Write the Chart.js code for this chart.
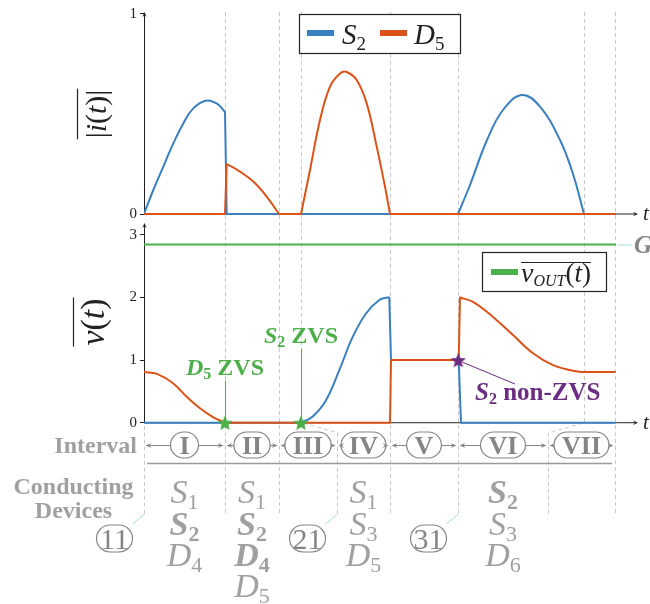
<!DOCTYPE html>
<html>
<head>
<meta charset="utf-8">
<script src="https://cdn.jsdelivr.net/npm/chart.js@4.4.1/dist/chart.umd.min.js"></script>
<style>
  html, body { margin: 0; padding: 0; background: #fff; overflow: hidden; }
  #wrap { position: relative; width: 650px; height: 604px; }
</style>
</head>
<body>
<div id="wrap"><canvas id="c" width="650" height="604"></canvas></div>
<script>
// ---- switching instants (time axis, arbitrary units) ----
const boundaries = [0, 8.1, 13.5, 15.7, 24.6, 31.4, 44.0, 47.1];
// interval edges used for the interval / device rows
const rowEdges   = [0, 8.1, 13.5, 19.3, 24.6, 31.4, 40.4, 47.1];

// ---- normalised current magnitudes |i(t)| : [t, value]; a null value marks a corner ----
const curS2 = [[0,0],[0.93,0.12],[1.93,0.237],[2.93,0.353],[3.93,0.453],[4.93,0.528],[6.27,0.567],[7.27,0.553],[7.93,0.52],[8.1,0.51],
               [8.1,null],[8.1,0.51],[8.27,0],[8.27,null],[8.27,0],[31.4,0],
               [31.4,null],[31.4,0],[32.6,0.145],[34.3,0.37],[35.9,0.52],[37.8,0.595],[39.6,0.537],[41.6,0.37],[42.9,0.20],[44.0,0],
               [44.0,null],[44.0,0],[47.1,0]];
const curD5 = [[0,0],[8.1,0],[8.1,null],[8.1,0],[8.27,0.25],[8.27,null],[8.27,0.25],[9.6,0.212],[10.93,0.162],[12.27,0.087],[13.5,0],
               [13.5,null],[13.5,0],[15.7,0],
               [15.7,null],[15.7,0],[16.6,0.22],[17.6,0.47],[18.6,0.637],[19.6,0.703],[20.27,0.71],[21.27,0.67],[22.27,0.553],[23.27,0.337],[24.1,0.137],[24.6,0],
               [24.6,null],[24.6,0],[47.1,0]];

// ---- normalised voltages v(t) : [t, value] ----
const volS2 = [[0,0],[15.7,0],[15.7,null],[15.7,0],[16.87,0.1],[18.2,0.36],[19.53,0.84],[20.87,1.37],[22.2,1.745],[23.53,1.96],[24.37,2.0],[24.53,2.0],
               [24.53,null],[24.53,2.0],[24.7,1.0],[24.7,null],[24.7,1.0],[31.47,1.0],[31.47,null],[31.47,1.0],[31.7,0],[31.7,null],[31.7,0],[47.1,0]];
const volD5 = [[0,0.81],[1.3,0.78],[2.9,0.63],[4.3,0.41],[5.6,0.23],[6.9,0.09],[8.1,0],[8.1,null],[8.1,0],[24.6,0],
               [24.6,null],[24.6,0],[24.7,1.0],[24.7,null],[24.7,1.0],[31.47,1.0],[31.47,null],[31.47,1.0],[31.6,2.0],[31.6,null],[31.6,2.0],
               [32.9,1.93],[34.9,1.69],[36.9,1.40],[38.9,1.11],[40.9,0.92],[42.9,0.83],[43.9,0.81],[43.9,null],[43.9,0.81],[47.1,0.81]];
const volOut = [[0,2.845],[47.1,2.845]];

// ---- switching events ----
const zvsEvents = [[8.1,0],[15.7,0],[31.43,1]];

// ---- tick values ----
const iTicks = [0, 1];
const vTicks = [0, 1, 2, 3];

// ---- row labels ----
const intervalNames = ['I','II','III','IV','V','VI','VII'];
const conducting = [['S1','*S2','D4'], ['S1','*S2','*D4','D5'], [], ['S1','S3','D5'], [], ['*S2','S3','D6'], []];
const refTags = [['11', 0], ['21', 19.3], ['31', 31.4]];

const COL = { blue:'#3a7fc0', orange:'#db5219', green:'#4caf4a', purple:'#6b2c82',
              dash:'#c8c8c8', axis:'#222', gray:'#858585', light:'#a0a0a0', teal:'#a9dadd' };
const SERIF = '"Liberation Serif", "DejaVu Serif", serif';

function starImage(color, r) {
  const s = Math.ceil(r * 2 + 2);
  const c = document.createElement('canvas');
  c.width = c.height = s;
  const g = c.getContext('2d');
  g.translate(s / 2, s / 2 + 0.8);
  g.beginPath();
  for (let k = 0; k < 10; k++) {
    const rad = k % 2 ? r * 0.45 : r;
    const a = -Math.PI / 2 + k * Math.PI / 5;
    g.lineTo(rad * Math.cos(a), rad * Math.sin(a));
  }
  g.closePath();
  g.fillStyle = color;
  g.fill();
  return c;
}

// draw a run of text pieces [text, font, dy]; returns [left, width]
function rich(ctx, parts, x, y, align) {
  let w = 0;
  const ws = parts.map(p => { ctx.font = p[1]; const m = ctx.measureText(p[0]).width; w += m; return m; });
  let cx = align === 'center' ? x - w / 2 : align === 'right' ? x - w : x;
  const left = cx;
  ctx.textAlign = 'left';
  ctx.textBaseline = 'alphabetic';
  parts.forEach((p, i) => { ctx.font = p[1]; ctx.fillText(p[0], cx, y + (p[2] || 0)); cx += ws[i]; });
  return [left, w];
}

function arrowHead(ctx, x, y, dx, dy, len, half) {
  const nx = -dy, ny = dx;
  ctx.beginPath();
  ctx.moveTo(x, y);
  ctx.lineTo(x - dx * len + nx * half, y - dy * len + ny * half);
  ctx.lineTo(x - dx * len * 0.6, y - dy * len * 0.6);
  ctx.lineTo(x - dx * len - nx * half, y - dy * len - ny * half);
  ctx.closePath();
  ctx.fill();
}

function capsule(ctx, cx, cy, w, h) {
  const r = h / 2, x0 = cx - w / 2, x1 = cx + w / 2;
  ctx.beginPath();
  ctx.moveTo(x0 + r, cy - r);
  ctx.lineTo(x1 - r, cy - r);
  ctx.arc(x1 - r, cy, r, -Math.PI / 2, Math.PI / 2);
  ctx.lineTo(x0 + r, cy + r);
  ctx.arc(x0 + r, cy, r, Math.PI / 2, Math.PI * 1.5);
  ctx.closePath();
}

const decorations = {
  id: 'decorations',
  beforeDatasetsDraw(chart) {
    const { ctx } = chart;
    const X = t => chart.scales.x.getPixelForValue(t);
    const yI0 = chart.scales.yI.getPixelForValue(0);
    const yV0 = chart.scales.yV.getPixelForValue(0);
    ctx.save();
    // dashed instants
    ctx.strokeStyle = COL.dash; ctx.lineWidth = 1; ctx.setLineDash([4, 3]);
    boundaries.forEach((b, k) => {
      const px = Math.round(X(b)) + 0.5;
      const lx = Math.round(X(rowEdges[k])) + 0.5;
      ctx.beginPath();
      if (k > 0) { ctx.moveTo(px, 12); ctx.lineTo(px, yV0); }
      else ctx.moveTo(px, yV0 + 3);
      ctx.lineTo(lx, yV0 + 10);
      ctx.lineTo(lx, 514);
      ctx.stroke();
    });
    ctx.setLineDash([]);
    // axes with arrow tips
    ctx.strokeStyle = COL.axis; ctx.fillStyle = COL.axis; ctx.lineWidth = 1;
    const x0 = Math.round(X(0)) + 0.5, xEnd = chart.chartArea.right;
    [[yI0, 12], [yV0, chart.scales.yV.top + 1]].forEach(([y0, yTop]) => {
      ctx.beginPath(); ctx.moveTo(x0, y0); ctx.lineTo(x0, yTop + 2); ctx.stroke();
      arrowHead(ctx, x0, yTop, 0, -1, 5, 2.2);
      ctx.beginPath(); ctx.moveTo(x0, y0); ctx.lineTo(xEnd - 2, y0); ctx.stroke();
      arrowHead(ctx, xEnd, y0, 1, 0, 5, 2.2);
    });
    ctx.restore();
  },
  afterDraw(chart) {
    const { ctx } = chart;
    const X = t => chart.scales.x.getPixelForValue(t);
    const yI0 = chart.scales.yI.getPixelForValue(0);
    const yV = v => chart.scales.yV.getPixelForValue(v);
    ctx.save();

    // axis names
    ctx.fillStyle = COL.axis;
    rich(ctx, [['t', `italic 21px ${SERIF}`, 0]], 643, yI0 + 6, 'left');
    rich(ctx, [['t', `italic 21px ${SERIF}`, 0]], 643, yV(0) + 6, 'left');

    ctx.save();
    ctx.translate(106, 114); ctx.rotate(-Math.PI / 2);
    let [l, w] = rich(ctx, [['|', `30px ${SERIF}`], ['i', `italic 30px ${SERIF}`], ['(', `30px ${SERIF}`], ['t', `italic 30px ${SERIF}`], [')', `30px ${SERIF}`], ['|', `30px ${SERIF}`]], 0, 0, 'center');
    ctx.strokeStyle = COL.axis; ctx.lineWidth = 1.2;
    ctx.beginPath(); ctx.moveTo(l - 1, -28.5); ctx.lineTo(l + w + 1, -28.5); ctx.stroke();
    ctx.restore();

    ctx.save();
    ctx.translate(104, 322); ctx.rotate(-Math.PI / 2);
    [l, w] = rich(ctx, [['v', `italic 34px ${SERIF}`], ['(', `34px ${SERIF}`], ['t', `italic 34px ${SERIF}`], [')', `34px ${SERIF}`]], 0, 0, 'center');
    ctx.strokeStyle = COL.axis; ctx.lineWidth = 1.2;
    ctx.beginPath(); ctx.moveTo(l - 1, -30.5); ctx.lineTo(l + w + 1, -30.5); ctx.stroke();
    ctx.restore();

    // legend: currents
    ctx.fillStyle = '#fff'; ctx.fillRect(299, 14, 161, 39);
    ctx.strokeStyle = COL.axis; ctx.lineWidth = 1.2; ctx.strokeRect(299.5, 14.5, 161, 39);
    ctx.fillStyle = COL.blue; ctx.fillRect(307, 30, 27, 6);
    ctx.fillStyle = COL.orange; ctx.fillRect(380, 30, 27, 6);
    ctx.fillStyle = COL.axis;
    rich(ctx, [['S', `italic 29px ${SERIF}`], ['2', `19px ${SERIF}`, 6]], 342, 44, 'left');
    rich(ctx, [['D', `italic 29px ${SERIF}`], ['5', `19px ${SERIF}`, 6]], 414, 44, 'left');

    // legend: output voltage
    ctx.fillStyle = '#fff'; ctx.fillRect(482, 252, 124, 39);
    ctx.strokeStyle = COL.axis; ctx.lineWidth = 1.2; ctx.strokeRect(482.5, 252.5, 124, 39);
    ctx.fillStyle = COL.green; ctx.fillRect(491, 269, 27, 6);
    ctx.fillStyle = COL.axis;
    [l, w] = rich(ctx, [['v', `italic 28px ${SERIF}`], ['OUT', `italic 16px ${SERIF}`, 4], ['(', `27px ${SERIF}`], ['t', `italic 27px ${SERIF}`], [')', `27px ${SERIF}`]], 521, 282, 'left');
    ctx.lineWidth = 1;
    ctx.beginPath(); ctx.moveTo(l, 262.5); ctx.lineTo(l + w, 262.5); ctx.stroke();

    // G tag on the output level
    ctx.strokeStyle = COL.teal; ctx.lineWidth = 1;
    ctx.beginPath(); ctx.moveTo(X(47.1) + 2, yV(2.845) + 0.5); ctx.lineTo(632, yV(2.845) + 0.5); ctx.stroke();
    ctx.fillStyle = COL.gray;
    rich(ctx, [['G', `bold italic 25px ${SERIF}`]], 634, yV(2.845) + 8, 'left');

    // ZVS annotations
    ctx.fillStyle = COL.green; ctx.strokeStyle = COL.green; ctx.lineWidth = 1;
    rich(ctx, [['D', `bold italic 24px ${SERIF}`], ['5', `bold 16px ${SERIF}`, 4], [' ZVS', `bold 24px ${SERIF}`]], X(zvsEvents[0][0]), 375, 'center');
    ctx.beginPath(); ctx.moveTo(Math.round(X(zvsEvents[0][0])) + 0.5, 381); ctx.lineTo(Math.round(X(zvsEvents[0][0])) + 0.5, yV(0) - 4); ctx.stroke();
    rich(ctx, [['S', `bold italic 24px ${SERIF}`], ['2', `bold 16px ${SERIF}`, 4], [' ZVS', `bold 24px ${SERIF}`]], X(zvsEvents[1][0]), 343, 'center');
    ctx.beginPath(); ctx.moveTo(Math.round(X(zvsEvents[1][0])) + 0.5, 349); ctx.lineTo(Math.round(X(zvsEvents[1][0])) + 0.5, yV(0) - 4); ctx.stroke();
    ctx.fillStyle = COL.purple; ctx.strokeStyle = COL.purple;
    ctx.beginPath(); ctx.moveTo(X(zvsEvents[2][0]) + 4, yV(zvsEvents[2][1]) + 2); ctx.lineTo(515, 384); ctx.stroke();
    rich(ctx, [['S', `bold italic 25px ${SERIF}`], ['2', `bold 16px ${SERIF}`, 4], [' non-ZVS', `bold 25px ${SERIF}`]], 475, 400, 'left');

    // interval row
    const rowY = 445;
    ctx.fillStyle = COL.light;
    rich(ctx, [['Interval', `bold 24px ${SERIF}`]], 137, rowY + 8, 'right');
    rich(ctx, [['Conducting', `bold 24px ${SERIF}`]], 73.5, 494, 'center');
    rich(ctx, [['Devices', `bold 24px ${SERIF}`]], 73.5, 518, 'center');

    ctx.strokeStyle = COL.gray; ctx.fillStyle = COL.gray; ctx.lineWidth = 1.2;
    intervalNames.forEach((name, k) => {
      const L = X(rowEdges[k]), R = X(rowEdges[k + 1]), c = (L + R) / 2;
      ctx.font = `bold 26px ${SERIF}`;
      const tw = ctx.measureText(name).width;
      const ow = Math.max(28, tw + 16), hw = ow / 2;
      capsule(ctx, c, rowY, ow, 26);
      ctx.stroke();
      ctx.fillStyle = COL.gray;
      rich(ctx, [[name, `bold 26px ${SERIF}`]], c, rowY + 9, 'center');
      ctx.beginPath();
      ctx.moveTo(L + 3, rowY + 0.5); ctx.lineTo(c - hw, rowY + 0.5);
      ctx.moveTo(c + hw, rowY + 0.5); ctx.lineTo(R - 3, rowY + 0.5);
      ctx.stroke();
      arrowHead(ctx, L + 1.5, rowY + 0.5, -1, 0, 6, 2.5);
      arrowHead(ctx, R - 1.5, rowY + 0.5, 1, 0, 6, 2.5);
    });
    ctx.strokeStyle = '#9a9a9a'; ctx.lineWidth = 1.3;
    ctx.beginPath(); ctx.moveTo(147, 463.5); ctx.lineTo(612, 463.5); ctx.stroke();

    // conducting devices
    const rowBase = [503, 535, 566, 597];
    ctx.fillStyle = COL.light;
    conducting.forEach((list, k) => {
      const c = (X(rowEdges[k]) + X(rowEdges[k + 1])) / 2;
      list.forEach((d, r) => {
        const bold = d[0] === '*';
        const s = bold ? d.slice(1) : d;
        rich(ctx, [[s[0], `${bold ? 'bold ' : ''}italic 34px ${SERIF}`], [s.slice(1), `${bold ? 'bold ' : ''}22px ${SERIF}`, 6]], c, rowBase[r], 'center');
      });
    });

    // reference tags
    refTags.forEach(([txt, t]) => {
      const bx = Math.round(X(t)) + 0.5;
      ctx.strokeStyle = COL.teal; ctx.lineWidth = 1;
      ctx.beginPath(); ctx.moveTo(bx, 514); ctx.lineTo(bx - 12, 524); ctx.stroke();
      const cx = bx - 30;
      ctx.strokeStyle = COL.gray; ctx.lineWidth = 1.2;
      capsule(ctx, cx, 538.5, 36, 27);
      ctx.stroke();
      ctx.fillStyle = COL.gray;
      rich(ctx, [[txt, `30px ${SERIF}`]], cx, 549, 'center');
    });

    ctx.restore();
  }
};

const baseLine = { borderWidth: 2, pointRadius: 0, fill: false, tension: 0.4, spanGaps: false,
                   borderCapStyle: 'round', borderJoinStyle: 'round' };
const yAxisCommon = {
  type: 'linear', position: 'left', stack: 'main',
  border: { display: false },
  grid: { drawOnChartArea: false, drawTicks: true, tickLength: 4, color: COL.axis, lineWidth: 1 },
  ticks: { color: COL.axis, padding: 3, font: { family: SERIF, size: 15 } },
  afterFit(s) { s.width = 144; }
};

new Chart(document.getElementById('c'), {
  type: 'line',
  data: {
    datasets: [
      { ...baseLine, label: 'S2', data: curS2, yAxisID: 'yI', borderColor: COL.blue, order: 3 },
      { ...baseLine, label: 'D5', data: curD5, yAxisID: 'yI', borderColor: COL.orange, order: 2 },
      { ...baseLine, label: 'S2 voltage', data: volS2, yAxisID: 'yV', borderColor: COL.blue, order: 3 },
      { ...baseLine, label: 'D5 voltage', data: volD5, yAxisID: 'yV', borderColor: COL.orange, order: 2 },
      { ...baseLine, label: 'vOUT', data: volOut, yAxisID: 'yV', borderColor: COL.green, order: 2 },
      { label: 'switching', data: zvsEvents, yAxisID: 'yV', showLine: false, clip: false, order: 0,
        pointStyle: [starImage(COL.green, 8), starImage(COL.green, 8), starImage(COL.purple, 8)],
        pointRadius: 8, borderColor: COL.green, backgroundColor: COL.green }
    ]
  },
  options: {
    responsive: false,
    animation: false,
    events: [],
    layout: { padding: { left: 0, right: 12, top: 12, bottom: 604 - 424.6 } },
    plugins: { legend: { display: false }, tooltip: { enabled: false } },
    scales: {
      x: { type: 'linear', min: 0, max: 49.4, display: false },
      yI: { ...yAxisCommon, min: -0.04, max: 1.01, stackWeight: 210, weight: 2,
            afterBuildTicks(s) { s.ticks = iTicks.map(v => ({ value: v })); } },
      yV: { ...yAxisCommon, min: -0.03, max: 3.206, stackWeight: 202.6, weight: 1,
            afterBuildTicks(s) { s.ticks = vTicks.map(v => ({ value: v })); } }
    }
  },
  plugins: [decorations]
});
</script>
</body>
</html>
